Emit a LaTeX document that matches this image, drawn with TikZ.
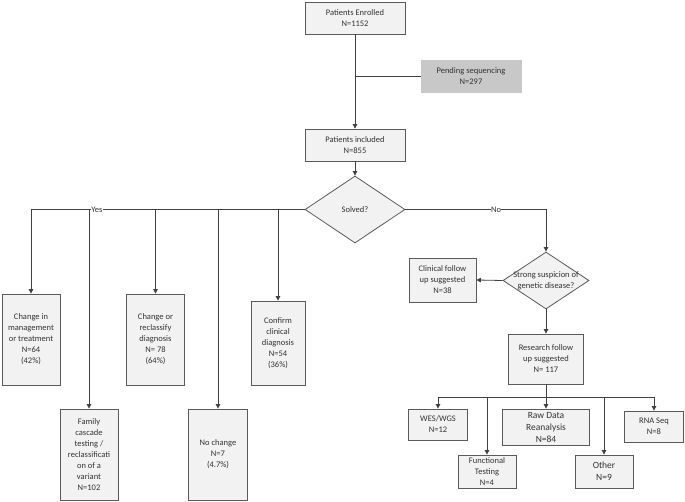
\documentclass[tikz,border=0pt]{standalone}
\usepackage{fontspec}
\setmainfont{Carlito}
\usetikzlibrary{shapes.geometric,arrows.meta}
\definecolor{boxfill}{RGB}{242,242,242}
\definecolor{pendfill}{RGB}{200,200,200}
\definecolor{boxline}{RGB}{90,90,90}
\definecolor{conn}{RGB}{64,64,64}
\begin{document}
\begin{tikzpicture}[x=1pt,y=-1pt,
  box/.style={draw=boxline,fill=boxfill,line width=0.8pt,inner sep=0pt,align=center,
    font=\fontsize{8.5}{11}\selectfont,text=black!80},
  dia/.style={diamond,draw=boxline,fill=boxfill,line width=0.8pt,inner sep=0pt},
  arr/.style={draw=conn,line width=0.8pt,-{Triangle[width=4.5pt,length=4.5pt]}},
  ln/.style={draw=conn,line width=0.8pt},
  lab/.style={fill=white,inner sep=0.5pt,font=\fontsize{8.5}{11}\selectfont,text=black!80}]
\useasboundingbox (0,0) rectangle (685,502);
% main column
\node[box,minimum width=100,minimum height=32] (enr) at (355,18) {Patients Enrolled\\N=1152};
\node[box,fill=pendfill,draw=pendfill,minimum width=100,minimum height=32] (pend) at (471,76) {Pending sequencing\\N=297};
\node[box,minimum width=100,minimum height=32] (incl) at (355,145) {Patients included\\N=855};
\node[dia,minimum width=100,minimum height=67] (solved) at (355,209.5) {};
\node[font=\fontsize{8.5}{11}\selectfont,text=black!80] at (solved) {Solved?};
% yes branch boxes
\node[box,minimum width=58,minimum height=91] (cim) at (31,339.5) {Change in\\management\\or treatment\\N=64\\(42\%)};
\node[box,minimum width=58,minimum height=91] (fam) at (89,454.5) {Family\\cascade\\testing /\\reclassificati\\on of a\\variant\\N=102};
\node[box,minimum width=58,minimum height=91] (chg) at (155.5,339.5) {Change or\\reclassify\\diagnosis\\N= 78\\(64\%)};
\node[box,minimum width=59,minimum height=91] (noc) at (218,454.5) {No change\\N=7\\(4.7\%)};
\node[box,minimum width=54,minimum height=84] (conf) at (278,343) {Confirm\\clinical\\diagnosis\\N=54\\(36\%)};
% no branch
\node[dia,minimum width=86,minimum height=57] (strong) at (546,280.5) {};
\node[font=\fontsize{8.5}{11}\selectfont,text=black!80,align=center] at (strong) {Strong suspicion of\\genetic disease?};
\node[box,minimum width=67,minimum height=44] (clin) at (442.5,280) {Clinical follow\\up suggested\\N=38};
\node[box,minimum width=75,minimum height=50] (res) at (546,359) {Research follow\\up suggested\\N= 117};
\node[box,minimum width=59,minimum height=31] (wes) at (438,424.5) {WES/WGS\\N=12};
\node[box,minimum width=87,minimum height=36,font=\fontsize{9.5}{12}\selectfont] (raw) at (546,427) {Raw Data\\Reanalysis\\N=84};
\node[box,minimum width=59,minimum height=31] (rna) at (654,426.5) {RNA Seq\\N=8};
\node[box,minimum width=58,minimum height=33] (fun) at (487,471.5) {Functional\\Testing\\N=4};
\node[box,minimum width=58,minimum height=33,font=\fontsize{9.5}{12}\selectfont] (oth) at (604,471.5) {Other\\N=9};
% connectors main
\coordinate (j1) at (355,76);
\draw[arr] (enr) -- (incl);
\draw[ln] (pend.west) -- (j1);
\draw[arr] (incl) -- (solved);
% yes
\coordinate (yl) at (31,209.5);
\draw[arr] (solved.west) -| (cim.north);
\draw[arr] (fam.north |- yl) -- (fam.north);
\draw[arr] (chg.north |- yl) -- (chg.north);
\draw[arr] (noc.north |- yl) -- (noc.north);
\draw[arr] (conf.north |- yl) -- (conf.north);
\node[lab] (yes) at (97,209.5) {Yes};
% no
\draw[arr] (solved.east) -| (strong.north);
\node[lab] (no) at (496,209.5) {No};
\draw[arr] (strong.west) -- (clin.east);
\draw[arr] (strong.south) -- (res.north);
% research branches
\coordinate (bus) at (546,397);
\draw[ln] (res.south) -- (bus);
\draw[ln] (wes.north |- bus) -- (rna.north |- bus);
\draw[arr] (wes.north |- bus) -- (wes.north);
\draw[arr] (fun.north |- bus) -- (fun.north);
\draw[arr] (bus) -- (raw.north);
\draw[arr] (oth.north |- bus) -- (oth.north);
\draw[arr] (rna.north |- bus) -- (rna.north);
\end{tikzpicture}
\end{document}
